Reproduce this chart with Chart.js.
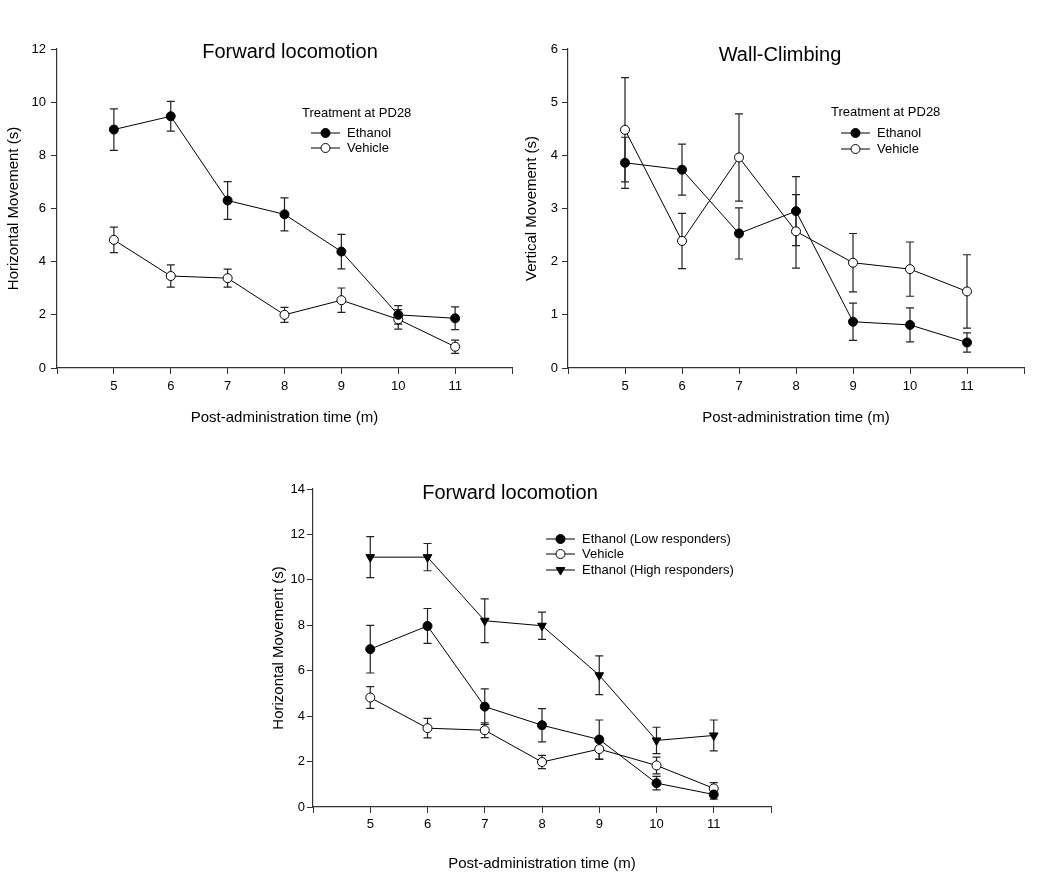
<!DOCTYPE html>
<html>
<head>
<meta charset="utf-8">
<script src="https://cdn.jsdelivr.net/npm/chart.js@4"></script>
<style>
body{margin:0;background:#fff;width:1050px;height:873px;position:relative;overflow:hidden}
canvas{position:absolute}
</style>
</head>
<body>
<canvas id="c1" width="530" height="440" style="left:0;top:0"></canvas>
<canvas id="c2" width="535" height="440" style="left:515px;top:0"></canvas>
<canvas id="c3" width="530" height="413" style="left:260px;top:460px"></canvas>
<script>
const times = [5, 6, 7, 8, 9, 10, 11];

// top left: forward locomotion
const fwdEthanol = [8.97, 9.47, 6.30, 5.78, 4.38, 2.00, 1.87];
const fwdEthanolErr = [0.78, 0.56, 0.71, 0.62, 0.65, 0.35, 0.43];
const fwdVehicle = [4.82, 3.46, 3.38, 2.00, 2.55, 1.83, 0.80];
const fwdVehicleErr = [0.48, 0.42, 0.34, 0.28, 0.46, 0.37, 0.25];

// top right: wall climbing
const wallEthanol = [3.86, 3.73, 2.53, 2.95, 0.87, 0.81, 0.48];
const wallEthanolErr = [0.48, 0.48, 0.48, 0.65, 0.35, 0.32, 0.18];
const wallVehicle = [4.48, 2.39, 3.96, 2.57, 1.98, 1.86, 1.44];
const wallVehicleErr = [0.98, 0.52, 0.82, 0.69, 0.55, 0.51, 0.69];

// bottom: low / high responders
const lowEthanol = [6.95, 7.97, 4.42, 3.60, 2.97, 1.05, 0.55];
const lowEthanolErr = [1.05, 0.77, 0.78, 0.73, 0.86, 0.30, 0.20];
const botVehicle = [4.82, 3.47, 3.38, 1.98, 2.55, 1.83, 0.82];
const botVehicleErr = [0.48, 0.43, 0.33, 0.29, 0.45, 0.37, 0.25];
const highEthanol = [11.0, 11.0, 8.20, 7.98, 5.80, 2.93, 3.15];
const highEthanolErr = [0.90, 0.60, 0.96, 0.60, 0.85, 0.58, 0.68];

const FONT = '"Liberation Sans", Arial, sans-serif';

function pts(vals) {
  return times.map((t, i) => ({ x: t, y: vals[i] }));
}

function series(label, vals, err, style) {
  return {
    label: label,
    data: pts(vals),
    err: err,
    borderColor: '#000',
    borderWidth: 1,
    pointStyle: style.shape || 'circle',
    pointRotation: style.rot || 0,
    pointRadius: style.r || 4.5,
    pointBackgroundColor: style.fill,
    pointBorderColor: '#000',
    pointBorderWidth: 1,
    tension: 0
  };
}

const errorBars = {
  id: 'errorBars',
  beforeDatasetsDraw(chart) {
    const ctx = chart.ctx, xs = chart.scales.x, ys = chart.scales.y;
    ctx.save();
    ctx.strokeStyle = '#222';
    ctx.lineWidth = 1.2;
    chart.data.datasets.forEach(ds => {
      ds.data.forEach((p, i) => {
        const e = ds.err[i];
        const px = xs.getPixelForValue(p.x);
        const top = ys.getPixelForValue(p.y + e);
        const bot = ys.getPixelForValue(p.y - e);
        ctx.beginPath();
        ctx.moveTo(px, top); ctx.lineTo(px, bot);
        ctx.moveTo(px - 4, top); ctx.lineTo(px + 4, top);
        ctx.moveTo(px - 4, bot); ctx.lineTo(px + 4, bot);
        ctx.stroke();
      });
    });
    ctx.restore();
  }
};

// chart title + legend with line/marker sample
const panelText = {
  id: 'panelText',
  afterDraw(chart, args, o) {
    const ctx = chart.ctx;
    ctx.save();
    ctx.fillStyle = '#000';
    ctx.textBaseline = 'middle';
    ctx.textAlign = 'center';
    ctx.font = '20px ' + FONT;
    ctx.fillText(o.title, o.titleX, o.titleY);
    ctx.textAlign = 'left';
    ctx.font = '13px ' + FONT;
    if (o.header) ctx.fillText(o.header, o.headerX, o.headerY);
    chart.data.datasets.forEach((ds, i) => {
      const y = o.rowsY[i];
      ctx.strokeStyle = '#000';
      ctx.lineWidth = 1;
      ctx.beginPath();
      ctx.moveTo(o.lineX, y);
      ctx.lineTo(o.lineX + 29, y);
      ctx.stroke();
      ctx.fillStyle = ds.pointBackgroundColor;
      Chart.helpers.drawPoint(ctx, {
        pointStyle: ds.pointStyle, radius: ds.pointRadius,
        rotation: ds.pointRotation, borderWidth: 1
      }, o.lineX + 14.5, y);
      ctx.fillStyle = '#000';
      ctx.fillText(ds.label, o.lineX + 36, y);
    });
    ctx.restore();
  }
};

function makeChart(id, datasets, cfg) {
  return new Chart(document.getElementById(id), {
    type: 'line',
    data: { datasets: datasets },
    plugins: [errorBars, panelText],
    options: {
      responsive: false,
      animation: false,
      layout: { padding: { left: 0, top: cfg.top, right: cfg.right, bottom: 0 } },
      plugins: {
        legend: { display: false },
        tooltip: { enabled: false },
        panelText: cfg.text
      },
      scales: {
        x: {
          type: 'linear', min: 4, max: 12,
          afterFit: s => { s.height = cfg.xHeight; },
          ticks: {
            stepSize: 1, padding: cfg.xTickPad, color: '#000',
            font: { size: 13, family: FONT },
            callback: v => (v >= 5 && v <= 11) ? v : ''
          },
          grid: { drawOnChartArea: false, tickLength: 6, color: '#333' },
          border: { color: '#333', width: 1.2 },
          title: {
            display: true, text: 'Post-administration time (m)', color: '#000',
            font: { size: 15, family: FONT }, padding: { top: 0, bottom: cfg.xTitlePad }
          }
        },
        y: {
          min: 0, max: cfg.yMax,
          afterFit: s => { s.width = cfg.yWidth; },
          ticks: {
            stepSize: cfg.yStep, padding: cfg.yTickPad, color: '#000',
            font: { size: 13, family: FONT }
          },
          grid: { drawOnChartArea: false, tickLength: 6, color: '#333' },
          border: { color: '#333', width: 1.2 },
          title: {
            display: true, text: cfg.yTitle, color: '#000',
            font: { size: 15, family: FONT }, padding: { top: cfg.yTitlePad, bottom: 0 }
          }
        }
      }
    }
  });
}

makeChart('c1', [
  series('Ethanol', fwdEthanol, fwdEthanolErr, { fill: '#000' }),
  series('Vehicle', fwdVehicle, fwdVehicleErr, { fill: '#fff' })
], {
  top: 49, right: 18, xHeight: 72, yWidth: 57, yMax: 12, yStep: 2,
  xTickPad: 5, xTitlePad: 13, yTitlePad: 5, yTickPad: 5,
  yTitle: 'Horizontal Movement (s)',
  text: {
    title: 'Forward locomotion', titleX: 290, titleY: 52,
    header: 'Treatment at PD28', headerX: 302, headerY: 113,
    lineX: 311, rowsY: [133, 148]
  }
});

makeChart('c2', [
  series('Ethanol', wallEthanol, wallEthanolErr, { fill: '#000' }),
  series('Vehicle', wallVehicle, wallVehicleErr, { fill: '#fff' })
], {
  top: 49, right: 26, xHeight: 72, yWidth: 53, yMax: 6, yStep: 1,
  xTickPad: 5, xTitlePad: 13, yTitlePad: 8, yTickPad: 4,
  yTitle: 'Vertical Movement (s)',
  text: {
    title: 'Wall-Climbing', titleX: 265, titleY: 55,
    header: 'Treatment at PD28', headerX: 316, headerY: 112,
    lineX: 326, rowsY: [133, 149]
  }
});

makeChart('c3', [
  series('Ethanol (Low responders)', lowEthanol, lowEthanolErr, { fill: '#000' }),
  series('Vehicle', botVehicle, botVehicleErr, { fill: '#fff' }),
  series('Ethanol (High responders)', highEthanol, highEthanolErr, { fill: '#000', shape: 'triangle', rot: 180, r: 5 })
], {
  top: 29, right: 19, xHeight: 66, yWidth: 53, yMax: 14, yStep: 2,
  xTickPad: 4, xTitlePad: 0, yTitlePad: 10, yTickPad: 2,
  yTitle: 'Horizontal Movement (s)',
  text: {
    title: 'Forward locomotion', titleX: 250, titleY: 33,
    header: null,
    lineX: 286, rowsY: [79, 94, 110]
  }
});
</script>
</body>
</html>
